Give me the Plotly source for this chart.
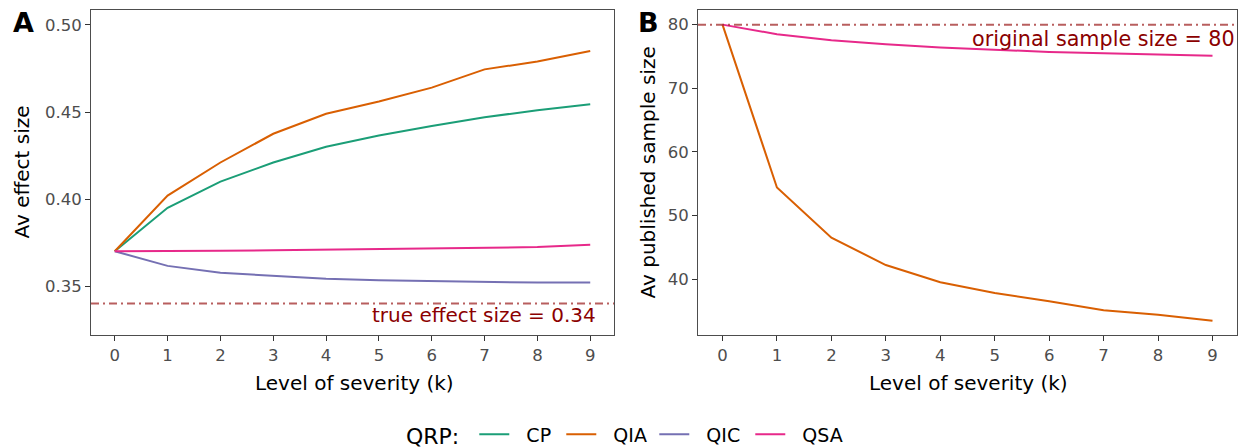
import plotly.graph_objects as go

k = [0, 1, 2, 3, 4, 5, 6, 7, 8, 9]

# Panel A: average effect size
es_CP  = [0.370, 0.395, 0.410, 0.421, 0.430, 0.4365, 0.442, 0.447, 0.451, 0.4545]
es_QIA = [0.370, 0.402, 0.421, 0.4375, 0.449, 0.456, 0.464, 0.4745, 0.479, 0.485]
es_QIC = [0.370, 0.3616, 0.3576, 0.3557, 0.3542, 0.3534, 0.3529, 0.3525, 0.3520, 0.3520]
es_QSA = [0.370, 0.3700, 0.3703, 0.3706, 0.3710, 0.3713, 0.3717, 0.3720, 0.3724, 0.3737]

# Panel B: average published sample size
n_QIA = [80.0, 54.4, 46.5, 42.2, 39.5, 37.8, 36.5, 35.1, 34.4, 33.45]
n_QSA = [80.0, 78.5, 77.55, 76.9, 76.4, 76.0, 75.7, 75.5, 75.3, 75.1]

true_es = 0.34
orig_n = 80

names = ["CP", "QIA", "QIC", "QSA"]
colors = {"CP": "#1B9E77", "QIA": "#D95F02", "QIC": "#7570B3", "QSA": "#E7298A"}
legend_w = {"CP": 42, "QIA": 48, "QIC": 51, "QSA": 55}

FONT = "DejaVu Sans"
W, H = 1243, 448
PAD = "&nbsp;&nbsp;"

fig = go.Figure()

seriesA = {"CP": es_CP, "QIA": es_QIA, "QIC": es_QIC, "QSA": es_QSA}
for nm in names:
    fig.add_trace(go.Scatter(x=k, y=seriesA[nm], mode="lines", name=PAD + nm,
                             line=dict(color=colors[nm], width=2),
                             legendwidth=legend_w[nm],
                             xaxis="x", yaxis="y", legendgroup=nm))

seriesB = {"QIA": n_QIA, "QSA": n_QSA}
for nm in ["QIA", "QSA"]:
    fig.add_trace(go.Scatter(x=k, y=seriesB[nm], mode="lines", name=nm,
                             line=dict(color=colors[nm], width=2),
                             showlegend=False,
                             xaxis="x2", yaxis="y2", legendgroup=nm))

axis_common = dict(showline=True, mirror=True, linecolor="#4d4d4d", linewidth=1,
                   showgrid=False, zeroline=False, ticks="outside", ticklen=5,
                   tickcolor="#333333", tickwidth=1,
                   tickfont=dict(family=FONT, size=16.5, color="#4D4D4D"))

dom_y = [1 - 335 / H, 1 - 10 / H]
dom_xA = [91 / W, 614 / W]
dom_xB = [698 / W, 1237 / W]

fig.update_layout(
    width=W, height=H,
    margin=dict(l=0, r=0, t=0, b=0, pad=0, autoexpand=False),
    plot_bgcolor="white", paper_bgcolor="white",
    font=dict(family=FONT, color="black"),
    xaxis=dict(domain=dom_xA, range=[-0.45, 9.45], tickvals=k, anchor="y", **axis_common),
    yaxis=dict(domain=dom_y, range=[0.3219, 0.5086], tickvals=[0.35, 0.40, 0.45, 0.50],
               ticktext=["0.35", "0.40", "0.45", "0.50"], anchor="x", **axis_common),
    xaxis2=dict(domain=dom_xB, range=[-0.45, 9.45], tickvals=k, anchor="y2", **axis_common),
    yaxis2=dict(domain=dom_y, range=[31.2, 82.3], tickvals=[40, 50, 60, 70, 80], anchor="x2",
                **axis_common),
    showlegend=True,
    legend=dict(orientation="h", x=404 / W, xanchor="left", y=1 - 435 / H, yanchor="middle",
                font=dict(family=FONT, size=19, color="black"),
                title=dict(text="QRP:&nbsp;", side="left",
                           font=dict(family=FONT, size=22, color="black")),
                itemwidth=30, bgcolor="rgba(0,0,0,0)"),
)

dash_style = dict(color="rgba(160,40,40,0.75)", width=2, dash="8px,4px,2px,4px")
fig.add_shape(type="line", xref="x domain", yref="y", x0=0, x1=1, y0=true_es, y1=true_es,
              line=dash_style)
fig.add_shape(type="line", xref="x2 domain", yref="y2", x0=0, x1=1, y0=orig_n, y1=orig_n,
              line=dash_style)

fig.add_annotation(text="true effect size = 0.34", xref="x", yref="y", x=9.15, y=true_es,
                   xanchor="right", yanchor="top", yshift=2, showarrow=False,
                   font=dict(family=FONT, size=20, color="#8B0000"))
fig.add_annotation(text="original sample size = 80", xref="x2 domain", yref="y2", x=1, y=orig_n,
                   xanchor="right", yanchor="top", yshift=0, showarrow=False,
                   font=dict(family=FONT, size=20.7, color="#8B0000"))

# axis titles
fig.add_annotation(text="Av effect size", xref="paper", yref="paper", x=22 / W, y=1 - 172.5 / H,
                   textangle=-90, xanchor="center", yanchor="middle", showarrow=False,
                   font=dict(family=FONT, size=20, color="black"))
fig.add_annotation(text="Av published sample size", xref="paper", yref="paper", x=648 / W,
                   y=1 - 172.5 / H, textangle=-90, xanchor="center", yanchor="middle",
                   showarrow=False, font=dict(family=FONT, size=20, color="black"))
fig.add_annotation(text="Level of severity (k)", xref="paper", yref="paper", x=354 / W,
                   y=1 - 383 / H, xanchor="center", yanchor="middle", showarrow=False,
                   font=dict(family=FONT, size=20, color="black"))
fig.add_annotation(text="Level of severity (k)", xref="paper", yref="paper", x=968 / W,
                   y=1 - 383 / H, xanchor="center", yanchor="middle", showarrow=False,
                   font=dict(family=FONT, size=20, color="black"))

# panel tags
fig.add_annotation(text="<b>A</b>", xref="paper", yref="paper", x=11 / W, y=1 - 22 / H,
                   xanchor="left", yanchor="middle", showarrow=False,
                   font=dict(family=FONT, size=27, color="black"))
fig.add_annotation(text="<b>B</b>", xref="paper", yref="paper", x=636 / W, y=1 - 22 / H,
                   xanchor="left", yanchor="middle", showarrow=False,
                   font=dict(family=FONT, size=27, color="black"))

page_js = (
    "var s=document.documentElement.style;s.margin='0';s.padding='0';s.overflow='hidden';"
    "var b=document.body.style;b.margin='0';b.padding='0';b.overflow='hidden';"
)

fig.write_html("out.html", config={"displayModeBar": False}, post_script=page_js)
